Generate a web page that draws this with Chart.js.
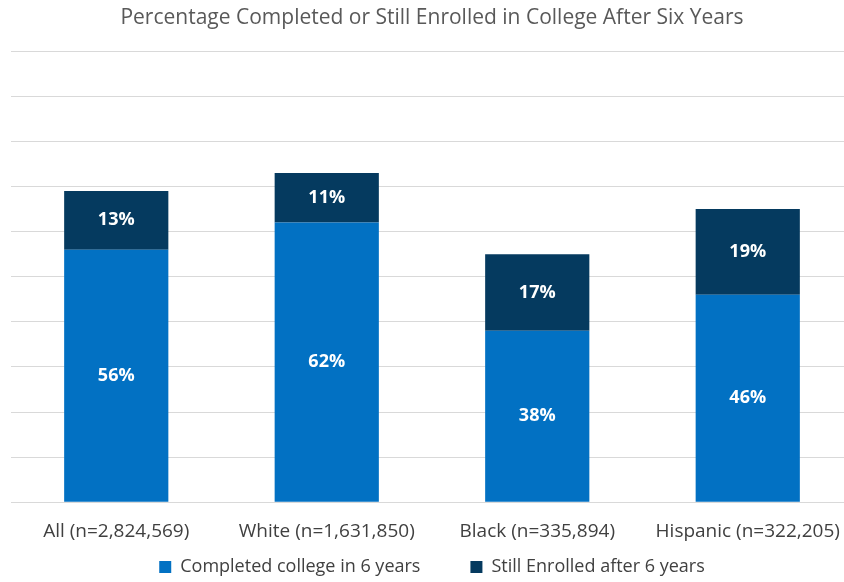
<!DOCTYPE html>
<html>
<head>
<meta charset="utf-8">
<script src="https://cdn.jsdelivr.net/npm/chart.js@4"></script>
<style>
  html, body { margin: 0; padding: 0; background: #fff; overflow: hidden; }
  #wrap { width: 856px; height: 586px; }
</style>
</head>
<body>
<div id="wrap"><canvas id="chart" width="856" height="586"></canvas></div>
<script>
const groups = ['All (n=2,824,569)', 'White (n=1,631,850)', 'Black (n=335,894)', 'Hispanic (n=322,205)'];
const completed = [56, 62, 38, 46];
const stillEnrolled = [13, 11, 17, 19];

// white percentage labels in the middle of each segment
const segmentLabels = {
  id: 'segmentLabels',
  afterDatasetsDraw(chart) {
    const ctx = chart.ctx;
    ctx.save();
    ctx.fillStyle = '#ffffff';
    ctx.font = 'bold 18px "Open Sans"';
    ctx.textAlign = 'center';
    ctx.textBaseline = 'middle';
    chart.data.datasets.forEach((ds, i) => {
      chart.getDatasetMeta(i).data.forEach((bar, j) => {
        const mid = (bar.y + bar.base) / 2;
        ctx.fillText(ds.data[j] + '%', bar.x, mid);
      });
    });
    ctx.restore();
  }
};

new Chart(document.getElementById('chart'), {
  type: 'bar',
  data: {
    labels: groups,
    datasets: [{
      label: 'Completed college in 6 years',
      data: completed,
      backgroundColor: '#0271C3',
      categoryPercentage: 0.495,
      barPercentage: 1
    }, {
      label: 'Still Enrolled after 6 years',
      data: stillEnrolled,
      backgroundColor: '#053A5F',
      categoryPercentage: 0.495,
      barPercentage: 1
    }]
  },
  options: {
    responsive: false,
    animation: false,
    layout: { padding: { left: 11, right: 3, top: 0, bottom: 0 } },
    scales: {
      x: {
        stacked: true,
        grid: { display: false },
        border: { display: false },
        ticks: { color: '#404040', font: { family: 'Open Sans', size: 19 }, padding: 10 }
      },
      y: {
        stacked: true,
        min: 0,
        max: 100,
        ticks: { display: false, stepSize: 10 },
        grid: { color: '#d9d9d9', lineWidth: 1, drawTicks: false },
        border: { display: false }
      }
    },
    plugins: {
      title: {
        display: true,
        text: 'Percentage Completed or Still Enrolled in College After Six Years',
        color: '#595959',
        font: { family: 'Open Sans', size: 21, weight: 'normal' },
        padding: { top: 5, bottom: 21 }
      },
      legend: {
        position: 'bottom',
        labels: {
          color: '#404040',
          font: { family: 'Open Sans', size: 18 },
          boxWidth: 12,
          boxHeight: 12,
          padding: 5,
          // wider gap between the two entries than the vertical padding
          generateLabels(chart) {
            const items = Chart.defaults.plugins.legend.labels.generateLabels(chart);
            items[0].text += '\u2003\u2003\u2002';
            return items;
          }
        }
      },
      tooltip: { enabled: false }
    }
  },
  plugins: [segmentLabels]
});
</script>
</body>
</html>
